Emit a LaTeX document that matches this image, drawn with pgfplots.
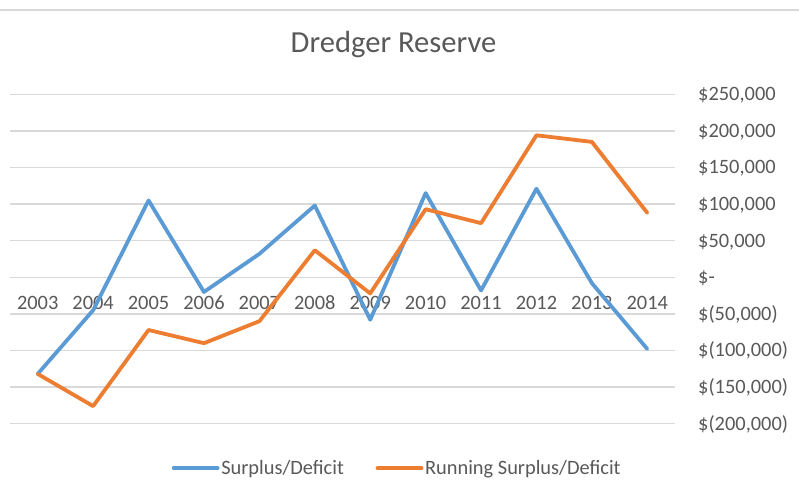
\documentclass[border=0pt]{standalone}
\usepackage{fontspec}
\setmainfont{Carlito}
\usepackage{pgfplots}
\pgfplotsset{compat=1.18}
\definecolor{sblue}{HTML}{5B9BD5}
\definecolor{sorange}{HTML}{ED7D31}
\definecolor{gridc}{HTML}{D9D9D9}
\definecolor{txt}{HTML}{595959}
\begin{document}
\begin{tikzpicture}
\useasboundingbox (0,0) rectangle (799pt,498pt);
\fill[white] (0,0) rectangle (799pt,498pt);
\draw[gridc, line width=1.3pt] (0,488pt) -- (799pt,488pt);
\begin{axis}[
  at={(10pt,74.3pt)}, anchor=south west,
  scale only axis, width=665pt, height=329.4pt,
  xmin=-0.5, xmax=11.5, ymin=-200000, ymax=250000,
  xtick={0,1,2,3,4,5,6,7,8,9,10,11},
  xticklabels={2003,2004,2005,2006,2007,2008,2009,2010,2011,2012,2013,2014},
  ytick={-200000,-150000,-100000,-50000,0,50000,100000,150000,200000,250000},
  yticklabels={\$(200{,}000),\$(150{,}000),\$(100{,}000),\$(50{,}000),\$-,\$50{,}000,\$100{,}000,\$150{,}000,\$200{,}000,\$250{,}000},
  /pgf/number format/assume math mode=true,
  scaled y ticks=false,
  axis line style={draw=none},
  major tick length=0pt,
  tick style={draw=none},
  xmajorgrids=false,
  ymajorgrids=true, major grid style={color=gridc, line width=1.3pt},
  ticklabel style={font=\fontsize{20.4}{24}\selectfont, text=txt},
  xticklabel style={anchor=base, inner sep=0pt, yshift=114.4pt},
  yticklabel pos=right,
  yticklabel style={anchor=base west, inner sep=0pt, xshift=23pt, yshift=-6.4pt},
  title={Dredger Reserve},
  title style={at={(axis description cs:0.5767,1.1093)}, anchor=base, inner sep=0pt, font=\fontsize{30.6}{36}\selectfont, text=txt},
  legend columns=2,
  legend style={draw=none, fill=none, at={(axis description cs:0.582,-0.1354)}, anchor=center,
    font=\fontsize{20.4}{24}\selectfont, text=txt, nodes={inner sep=1.7pt},
    /tikz/every even column/.append style={column sep=30pt}},
  legend image code/.code={\draw[#1, line width=3.8pt, line cap=round] (0pt,0pt) -- (44pt,0pt);},
  every axis plot/.append style={line width=3.8pt, line join=round, line cap=round},
  clip=false,
]
\addplot[sblue] coordinates {
(0,-132000) (1,-45000) (2,105000) (3,-20000) (4,32000) (5,98000)
(6,-58000) (7,115000) (8,-18000) (9,121000) (10,-8000) (11,-98000)};
\addlegendentry{Surplus/Deficit}
\addplot[sorange] coordinates {
(0,-132000) (1,-176000) (2,-72000) (3,-90000) (4,-60000) (5,37000)
(6,-22000) (7,93000) (8,74000) (9,194000) (10,185000) (11,88000)};
\addlegendentry{Running Surplus/Deficit}
\end{axis}
\end{tikzpicture}
\end{document}
